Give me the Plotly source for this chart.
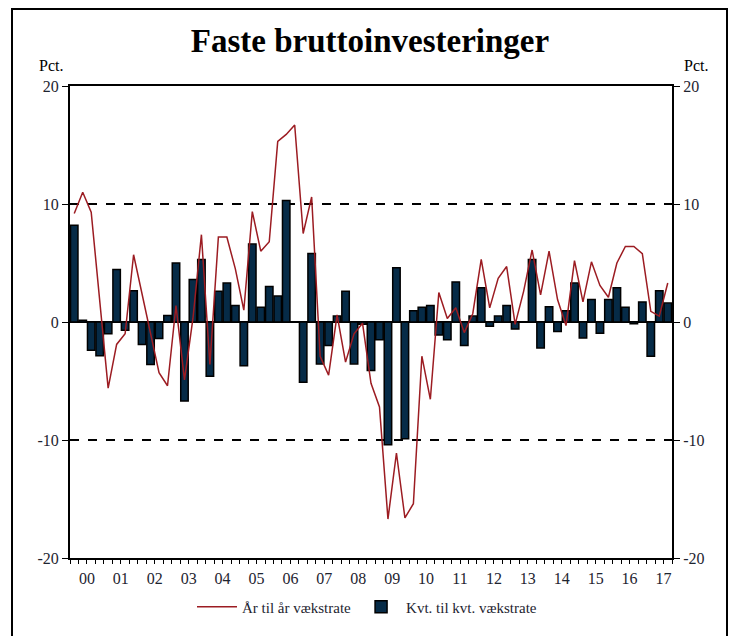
import plotly.graph_objects as go

# Quarterly data 2000Q1 - 2017Q3
kvt = [8.2, 0.15, -2.4, -2.85, -1.0, 4.45, -0.7, 2.65, -1.9, -3.6, -1.4, 0.55,
       5.0, -6.7, 3.6, 5.3, -4.6, 2.6, 3.3, 1.4, -3.7, 6.6, 1.25, 3.0,
       2.2, 10.3, 0.0, -5.1, 5.8, -3.55, -2.0, 0.5, 2.6, -3.55, -0.2, -4.1,
       -1.5, -10.4, 4.6, -9.9, 0.95, 1.25, 1.4, -1.1, -1.5, 3.4, -2.0, 0.5,
       2.9, -0.35, 0.5, 1.4, -0.6, 0.0, 5.3, -2.2, 1.3, -0.8, 0.95, 3.3,
       -1.35, 1.9, -0.95, 1.9, 2.9, 1.25, -0.15, 1.7, -2.9, 2.65, 1.6]
aar = [9.2, 11.0, 9.3, 2.0, -5.6, -1.9, -1.0, 5.7, 2.3, -1.2, -4.3, -5.4,
       1.4, -4.9, 0.3, 7.4, -3.6, 7.2, 7.2, 4.5, 1.0, 9.35, 6.0, 6.8,
       15.3, 15.9, 16.7, 7.5, 10.6, -2.9, -4.5, 0.6, -3.4, -1.0, -0.1, -5.2,
       -7.2, -16.7, -11.1, -16.6, -15.4, -2.9, -6.55, 2.5, 0.3, 1.2, -0.9, 0.7,
       5.3, 1.2, 3.7, 4.7, -0.2, 2.6, 6.1, 2.3, 6.0, 1.9, -0.3, 5.2,
       1.7, 5.1, 3.1, 2.1, 5.0, 6.4, 6.4, 5.8, 0.9, 0.5, 3.3]
year_labels = ["00", "01", "02", "03", "04", "05", "06", "07", "08",
               "09", "10", "11", "12", "13", "14", "15", "16", "17"]
y_ticks = [-20, -10, 0, 10, 20]
y_ticktext = ["-20", "-10", "0", "10", "20"]

title_text = "Faste bruttoinvesteringer"
name_line = "År til år vækstrate"
name_bar = "Kvt. til kvt. vækstrate"

n = len(kvt)
x = list(range(n))
year_centers = [4 * k + 1.5 for k in range(len(year_labels))]
year_bounds = [4 * k - 0.5 for k in range(len(year_labels) + 1)]
quarter_bounds = [i - 0.5 for i in range(n + 1)]

FONT = "Liberation Serif"
TXT = "#1e2430"

# page offset of the browser (body margin) is compensated in the margins
L, T, PW, PH = 62, 78, 602, 472
W, H = 739, 636

fig = go.Figure()
fig.add_trace(go.Bar(
    x=x, y=kvt, name=name_bar,
    marker=dict(color="#062b47", line=dict(color="#000000", width=1.5)),
    xaxis="x", yaxis="y",
))
fig.add_trace(go.Scatter(
    x=x, y=aar, mode="lines", name=name_line,
    line=dict(color="#9c1c22", width=1.5),
    xaxis="x", yaxis="y",
))
fig.add_trace(go.Scatter(x=[x[0], x[-1]], y=[0, 0], mode="lines",
                         line=dict(color="rgba(0,0,0,0)"), showlegend=False,
                         hoverinfo="skip", xaxis="x2", yaxis="y2"))

rng = [-0.5, n - 0.5]
fig.update_layout(
    width=W, height=H,
    margin=dict(l=L, r=W - L - PW, t=T, b=H - T - PH),
    paper_bgcolor="white", plot_bgcolor="white",
    font=dict(family=FONT, color=TXT, size=15),
    bargap=0.12,
    showlegend=True,
    title=dict(text="<b>" + title_text + "</b>", x=(370 - 8) / W, xanchor="center",
               y=1 - 32 / H, yanchor="middle",
               font=dict(family=FONT, size=33, color="#000000")),
    legend=dict(orientation="h", x=(367 - 8 - L) / PW, xanchor="center",
                y=(T + PH - (607 - 8)) / PH,
                yanchor="middle", font=dict(family=FONT, size=15, color=TXT),
                traceorder="reversed", bgcolor="rgba(0,0,0,0)", itemwidth=40),
    xaxis=dict(
        range=rng, tickmode="array", tickvals=year_bounds,
        ticktext=[""] * len(year_bounds), ticks="outside", ticklen=7,
        tickwidth=1.3, tickcolor="#000", showline=True, linecolor="#000",
        linewidth=2, mirror=True, showgrid=False, zeroline=False,
        minor=dict(tickmode="array", tickvals=quarter_bounds, ticks="outside",
                   ticklen=4, tickwidth=1, tickcolor="#000", showgrid=False),
    ),
    xaxis2=dict(
        range=rng, overlaying="x", anchor="y", side="bottom",
        tickmode="array", tickvals=year_centers, ticktext=year_labels,
        ticks="outside", ticklen=6, tickcolor="rgba(0,0,0,0)",
        showline=False, showgrid=False, zeroline=False,
        tickfont=dict(family=FONT, size=16, color=TXT),
    ),
    yaxis=dict(
        range=[-20, 20], tickmode="array", tickvals=y_ticks, ticktext=y_ticktext,
        ticks="outside", ticklen=6, tickwidth=1.3, tickcolor="#000",
        showline=True, linecolor="#000", linewidth=2,
        showgrid=True, gridcolor="#000", griddash="dash", gridwidth=1.5,
        zeroline=True, zerolinecolor="#000", zerolinewidth=2,
        tickfont=dict(family=FONT, size=16, color=TXT),
    ),
    yaxis2=dict(
        range=[-20, 20], overlaying="y", side="right", anchor="x",
        tickmode="array", tickvals=y_ticks, ticktext=y_ticktext,
        ticks="outside", ticklen=6, tickwidth=1.3, tickcolor="#000",
        showline=True, linecolor="#000", linewidth=2,
        showgrid=False, zeroline=False,
        tickfont=dict(family=FONT, size=16, color=TXT),
    ),
    annotations=[
        dict(text="Pct.", xref="paper", yref="paper", x=(51 - 8 - L) / PW,
             y=(T + PH - (65 - 8)) / PH,
             xanchor="center", yanchor="middle", showarrow=False,
             font=dict(family=FONT, size=16, color="#000")),
        dict(text="Pct.", xref="paper", yref="paper", x=(696 - 8 - L) / PW,
             y=(T + PH - (65 - 8)) / PH,
             xanchor="center", yanchor="middle", showarrow=False,
             font=dict(family=FONT, size=16, color="#000")),
    ],
    shapes=[
        dict(type="rect", xref="paper", yref="paper",
             x0=(12 - 8 - L) / PW, x1=(727 - 8 - L) / PW,
             y0=(T + PH - 650) / PH, y1=(T + PH - 1) / PH,
             line=dict(color="#000", width=2), fillcolor="rgba(0,0,0,0)",
             layer="below"),
    ],
)

fig.write_html("out.html")
